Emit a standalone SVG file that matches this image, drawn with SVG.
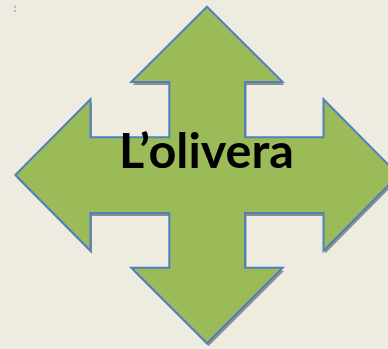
<svg xmlns="http://www.w3.org/2000/svg" width="388" height="349" viewBox="0 0 388 349">
  <style>
    .shape { fill: #9BBB59; stroke: #4F81BD; stroke-width: 2; stroke-linejoin: miter; }
    .shadow { fill: #8E8D88; }
    .label { font-family: Lato, "Liberation Sans", sans-serif; font-weight: bold; font-size: 48.5px; fill: #000000; }
  </style>
  <defs>
    <path id="cross" d="M207,6.7 L282.7,82 L245,82 L245,137.3 L323.5,137.3 L323.5,99.3 L398.5,175 L323.5,250.7 L323.5,213 L245,213 L245,267.7 L282.7,267.7 L207,343.3 L131.3,267.7 L169.3,267.7 L169.3,213 L90.5,213 L90.5,250.7 L15.3,175 L90.5,99.3 L90.5,137.3 L169.3,137.3 L169.3,82 L131.3,82 Z"/>
    <filter id="blur" x="-5%" y="-5%" width="110%" height="110%">
      <feGaussianBlur stdDeviation="0.6"/>
    </filter>
  </defs>
  <rect x="0" y="0" width="388" height="349" fill="#EEECE1"/>
  <rect x="14.5" y="5.7" width="1" height="2" fill="#4F81BD"/>
  <rect x="14.5" y="10" width="1" height="2" fill="#8E8D88"/>
  <g id="arrow">
    <use href="#cross" class="shadow" transform="translate(1.5,3)" filter="url(#blur)"/>
    <use href="#cross" class="shape"/>
  </g>
  <g id="title">
    <text class="label" x="119" y="168" textLength="175" lengthAdjust="spacingAndGlyphs">L’olivera</text>
  </g>
</svg>
